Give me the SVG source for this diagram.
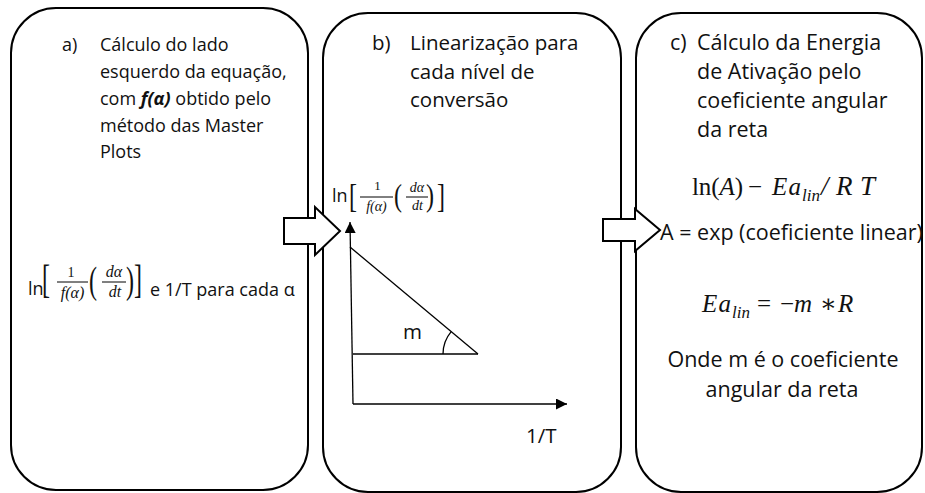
<svg xmlns="http://www.w3.org/2000/svg" width="925" height="493" viewBox="0 0 925 493">
<defs>
<style>
.box{fill:#fff;stroke:#000;stroke-width:2}
.t{font-family:"Open Sans","Noto Sans",sans-serif;font-size:18px;fill:#111}
.tb{font-size:20.5px}
.tc{font-size:21.5px}
.m{font-family:"Liberation Serif","DejaVu Serif",serif;fill:#111}
.mi{font-family:"Liberation Serif","DejaVu Serif",serif;font-style:italic;fill:#111}
.ln{stroke:#000;stroke-width:1.3;fill:none}
.fr{stroke:#000;stroke-width:1;fill:none}
.blk{fill:#fff;stroke:#000;stroke-width:2;stroke-linejoin:miter}
</style>
<marker id="ah" viewBox="0 0 12 12" refX="12" refY="6" markerWidth="12" markerHeight="11" markerUnits="userSpaceOnUse" orient="auto">
<path d="M0,0 L12,6 L0,12 Z" fill="#000"/>
</marker>
</defs>
<rect width="925" height="493" fill="#fff"/>

<g id="box-a">
<rect class="box" x="11" y="8" width="297" height="482" rx="45" ry="45"/>
<text class="t" x="62" y="51" font-size="16">a)</text>
<text class="t" x="100" y="51">Cálculo do lado</text>
<text class="t" x="100" y="78">esquerdo da equação,</text>
<text class="t" x="100" y="105">com <tspan font-style="italic" font-weight="bold">f(α)</tspan> obtido pelo</text>
<text class="t" x="100" y="132">método das Master</text>
<text class="t" x="100" y="158">Plots</text>
<g id="formula-a">
<text class="t" x="28" y="295">ln</text>
<text class="m" transform="translate(42,293) scale(1,1.7)" font-size="24">[</text>
<text class="m" x="71" y="277" font-size="14" text-anchor="middle">1</text>
<line class="fr" x1="57" y1="282" x2="88" y2="282"/>
<text class="mi" x="72.5" y="298" font-size="16" text-anchor="middle">f(α)</text>
<text class="m" transform="translate(89,293) scale(1,1.55)" font-size="24">(</text>
<text class="mi" x="114" y="277" font-size="16" text-anchor="middle">dα</text>
<line class="fr" x1="102" y1="282" x2="126" y2="282"/>
<text class="mi" x="115" y="297" font-size="16" text-anchor="middle">dt</text>
<text class="m" transform="translate(126,293) scale(1,1.55)" font-size="24">)</text>
<text class="m" transform="translate(134,293) scale(1,1.7)" font-size="24">]</text>
<text class="t" x="150" y="296">e 1/T para cada α</text>
</g>
</g>

<g id="box-b">
<rect class="box" x="323" y="13" width="298" height="479" rx="45" ry="45"/>
<text class="t tb" x="372" y="50">b)</text>
<text class="t tb" x="410" y="50">Linearização para</text>
<text class="t tb" x="410" y="79">cada nível de</text>
<text class="t tb" x="410" y="107">conversão</text>
<g id="axis-label">
<text class="t" x="332" y="202">ln</text>
<text class="m" transform="translate(349,207) scale(1,1.4)" font-size="24">[</text>
<text class="m" x="377.5" y="190" font-size="13" text-anchor="middle">1</text>
<line class="fr" x1="360" y1="197" x2="393" y2="197"/>
<text class="mi" x="376.5" y="211" font-size="14" text-anchor="middle">f(α)</text>
<text class="m" transform="translate(394,206) scale(1,1.3)" font-size="24">(</text>
<text class="mi" x="417" y="192" font-size="14" text-anchor="middle">dα</text>
<line class="fr" x1="406" y1="197" x2="428" y2="197"/>
<text class="mi" x="417.5" y="210" font-size="14" text-anchor="middle">dt</text>
<text class="m" transform="translate(426,206) scale(1,1.3)" font-size="24">)</text>
<text class="m" transform="translate(437,207) scale(1,1.4)" font-size="24">]</text>
</g>
<line class="ln" x1="353" y1="404" x2="350" y2="222" marker-end="url(#ah)"/>
<line class="ln" x1="353" y1="404" x2="567" y2="404" marker-end="url(#ah)"/>
<line class="ln" x1="350" y1="247" x2="478" y2="354"/>
<line class="ln" x1="353" y1="354" x2="478" y2="354"/>
<path class="ln" d="M443,354 A35,35 0 0 1 451.2,331.6"/>
<text class="t tb" x="403" y="339">m</text>
<text class="t tb" x="526" y="443">1/T</text>
</g>

<g id="box-c">
<rect class="box" x="636" y="13" width="286" height="479" rx="45" ry="45"/>
<text class="t tc" x="670" y="50">c)</text>
<text class="t tc" x="697" y="50">Cálculo da Energia</text>
<text class="t tc" x="697" y="79">de Ativação pelo</text>
<text class="t tc" x="697" y="108">coeficiente angular</text>
<text class="t tc" x="697" y="137">da reta</text>
<g id="eq1">
<text class="m" x="692" y="195" font-size="25" textLength="51">ln(<tspan font-style="italic">A</tspan>)</text>
<text class="m" x="748" y="195" font-size="25">−</text>
<text class="mi" x="772" y="195" font-size="25" textLength="29">Ea</text>
<text class="mi" x="802" y="201" font-size="17">lin</text>
<text class="mi" x="821" y="195" font-size="27" textLength="54">/RT</text>
</g>
<text class="t tc" x="660" y="240">A = exp (coeficiente linear)</text>
<g id="eq2">
<text class="mi" x="702" y="312" font-size="25" textLength="29">Ea</text>
<text class="mi" x="732" y="318" font-size="17">lin</text>
<text class="m" x="757" y="312" font-size="25">=</text>
<text class="m" x="780" y="312" font-size="25">−<tspan font-style="italic">m</tspan></text>
<text class="m" x="820" y="312" font-size="25">∗</text>
<text class="mi" x="838" y="312" font-size="25">R</text>
</g>
<text class="t tc" x="783" y="367" text-anchor="middle">Onde m é o coeficiente</text>
<text class="t tc" x="782" y="397" text-anchor="middle">angular da reta</text>
</g>

<g id="connectors">
<polygon class="blk" points="284,218 315,218 315,207 340,231 315,255 315,244 284,244"/>
<polygon class="blk" points="603,219 635,219 635,209 660,230 635,251 635,241 603,241"/>
</g>
</svg>
